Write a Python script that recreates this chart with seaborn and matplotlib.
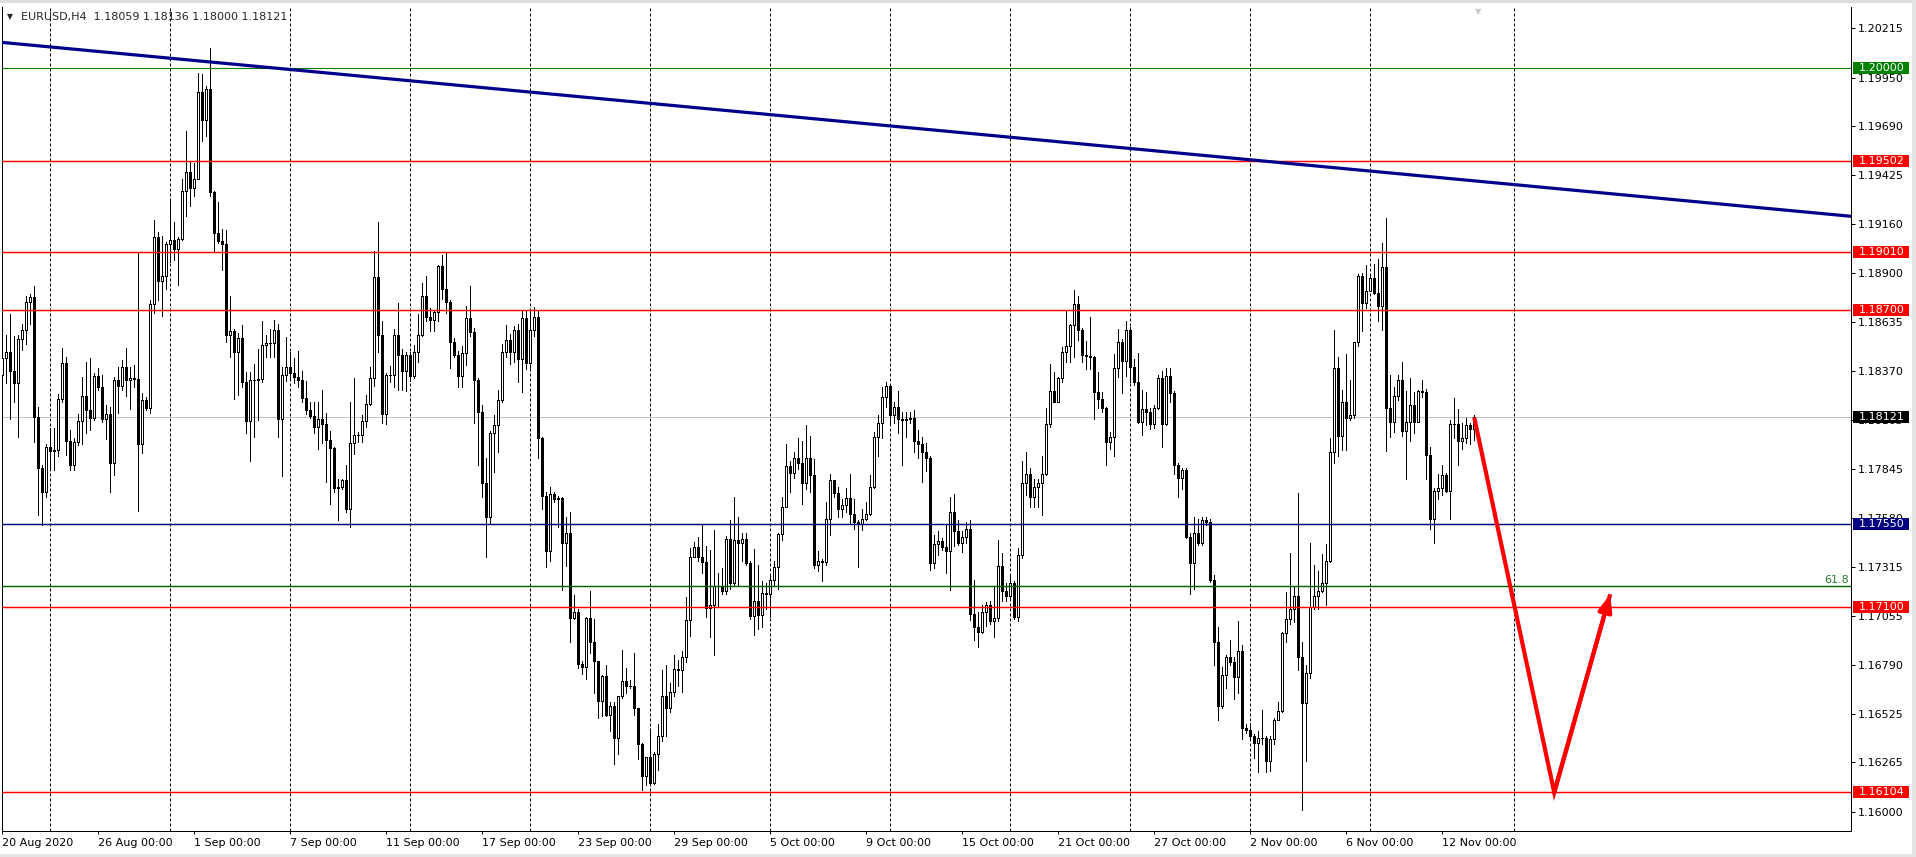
import numpy as np
import pandas as pd
import seaborn as sns
import matplotlib.pyplot as plt
import matplotlib.transforms as mtransforms
from matplotlib.patches import Rectangle

# -------------------------------------------------------------
# EURUSD H4 candles (20 Aug 2020 -> 13 Nov 2020)
# open of each bar = close of the previous one
# -------------------------------------------------------------
first_open = 1.18352

close = [
    1.18443, 1.18476, 1.18372, 1.18306, 1.18544, 1.18594, 1.18742, 1.18770, 1.18125, 1.17850,
    1.17721, 1.17961, 1.17941, 1.17946, 1.18221, 1.18416, 1.17994, 1.17867, 1.17988, 1.18100,
    1.18235, 1.18161, 1.18120, 1.18344, 1.18284, 1.18114, 1.18142, 1.17878, 1.18322, 1.18292,
    1.18391, 1.18322, 1.18336, 1.18328, 1.17977, 1.18213, 1.18172, 1.18729, 1.19091, 1.18855,
    1.18880, 1.19055, 1.19074, 1.19025, 1.19080, 1.19337, 1.19441, 1.19354, 1.19406, 1.19870,
    1.19724, 1.19886, 1.19332, 1.19112, 1.19071, 1.19052, 1.18563, 1.18585, 1.18476, 1.18550,
    1.18311, 1.18103, 1.18322, 1.18322, 1.18328, 1.18511, 1.18522, 1.18522, 1.18591, 1.18114,
    1.18350, 1.18391, 1.18361, 1.18339, 1.18322, 1.18226, 1.18161, 1.18131, 1.18068, 1.18114,
    1.18084, 1.18002, 1.17958, 1.17741, 1.17749, 1.17785, 1.17631, 1.17982, 1.18029, 1.18029,
    1.18100, 1.18194, 1.18336, 1.18877, 1.18566, 1.18142, 1.18347, 1.18352, 1.18563, 1.18457,
    1.18372, 1.18457, 1.18344, 1.18473, 1.18563, 1.18775, 1.18662, 1.18646, 1.18690, 1.18934,
    1.18811, 1.18745, 1.18525, 1.18459, 1.18344, 1.18468, 1.18654, 1.18580, 1.18322, 1.18152,
    1.17768, 1.17584, 1.18037, 1.18078, 1.18215, 1.18476, 1.18536, 1.18476, 1.18591, 1.18434,
    1.18654, 1.18413, 1.18591, 1.18662, 1.18010, 1.17699, 1.17403, 1.17708, 1.17680, 1.17686,
    1.17447, 1.17502, 1.17041, 1.17077, 1.16794, 1.16780, 1.17044, 1.16912, 1.16811, 1.16594,
    1.16731, 1.16523, 1.16570, 1.16397, 1.16624, 1.16704, 1.16674, 1.16674, 1.16556, 1.16364,
    1.16194, 1.16295, 1.16155, 1.16309, 1.16405, 1.16624, 1.16556, 1.16644, 1.16770, 1.16762,
    1.16830, 1.17030, 1.17373, 1.17423, 1.17373, 1.17343, 1.17096, 1.17110, 1.17214, 1.17214,
    1.17187, 1.17466, 1.17233, 1.17461, 1.17447, 1.17466, 1.17338, 1.17055, 1.17132, 1.17058,
    1.17179, 1.17173, 1.17247, 1.17318, 1.17494, 1.17639, 1.17859, 1.17823, 1.17905, 1.17878,
    1.17768, 1.17905, 1.17809, 1.17329, 1.17351, 1.17343, 1.17576, 1.17785, 1.17713, 1.17626,
    1.17648, 1.17686, 1.17604, 1.17557, 1.17549, 1.17576, 1.17604, 1.17749, 1.18015, 1.18092,
    1.18229, 1.18292, 1.18133, 1.18180, 1.18114, 1.18106, 1.18111, 1.18120, 1.17996, 1.17977,
    1.17933, 1.17905, 1.17338, 1.17442, 1.17455, 1.17425, 1.17401, 1.17612, 1.17508, 1.17447,
    1.17480, 1.17521, 1.17063, 1.16994, 1.16967, 1.17077, 1.17113, 1.17028, 1.17044, 1.17324,
    1.17187, 1.17159, 1.17233, 1.17049, 1.17379, 1.17771, 1.17818, 1.17691, 1.17749, 1.17768,
    1.17818, 1.18087, 1.18262, 1.18207, 1.18331, 1.18476, 1.18503, 1.18621, 1.18729, 1.18594,
    1.18457, 1.18454, 1.18448, 1.18256, 1.18221, 1.18174, 1.17991, 1.18015, 1.18388, 1.18525,
    1.18427, 1.18594, 1.18394, 1.18311, 1.18098, 1.18169, 1.18152, 1.18084, 1.18174, 1.18333,
    1.18084, 1.18344, 1.18251, 1.17867, 1.17798, 1.17839, 1.17480, 1.17338, 1.17502, 1.17447,
    1.17571, 1.17557, 1.17247, 1.16912, 1.16570, 1.16734, 1.16830, 1.16808, 1.16726, 1.16863,
    1.16452, 1.16441, 1.16405, 1.16370, 1.16397, 1.16397, 1.16273, 1.16391, 1.16495, 1.16542,
    1.16959, 1.17036, 1.17090, 1.17159, 1.16830, 1.16583, 1.16748, 1.17104, 1.17159, 1.17187,
    1.17228, 1.17351, 1.17933, 1.18388, 1.18023, 1.18202, 1.18120, 1.18133, 1.18525, 1.18882,
    1.18737, 1.18800, 1.18874, 1.18792, 1.18723, 1.18929, 1.18174, 1.18098, 1.18235, 1.18325,
    1.18051, 1.18098, 1.18188, 1.18098, 1.18262, 1.18256, 1.17919, 1.17576, 1.17727, 1.17743,
    1.17812, 1.17727, 1.18087, 1.18087, 1.17996, 1.18010, 1.18078, 1.18059, 1.18121,
]

high = [
    1.18531, 1.18563, 1.18679, 1.18558, 1.18563, 1.18626, 1.18773, 1.18784, 1.18828, 1.18180,
    1.17867, 1.17977, 1.18065, 1.18065, 1.18246, 1.18495, 1.18448, 1.18056, 1.18010, 1.18142,
    1.18339, 1.18421, 1.18440, 1.18361, 1.18388, 1.18350, 1.18188, 1.18180, 1.18339, 1.18394,
    1.18429, 1.18495, 1.18394, 1.18402, 1.19011, 1.18251, 1.18229, 1.18751, 1.19181, 1.19118,
    1.19096, 1.19063, 1.19299, 1.19173, 1.19093, 1.19403, 1.19661, 1.19496, 1.19491, 1.19974,
    1.19968, 1.19902, 1.20108, 1.19337, 1.19282, 1.19134, 1.19129, 1.18773, 1.18599, 1.18574,
    1.18618, 1.18366, 1.18366, 1.18407, 1.18490, 1.18640, 1.18566, 1.18599, 1.18646, 1.18626,
    1.18394, 1.18553, 1.18476, 1.18443, 1.18481, 1.18372, 1.18317, 1.18202, 1.18207, 1.18202,
    1.18270, 1.18147, 1.18051, 1.17960, 1.17790, 1.17790, 1.17867, 1.18202, 1.18333, 1.18045,
    1.18133, 1.18243, 1.18394, 1.19019, 1.19173, 1.18640, 1.18361, 1.18399, 1.18599, 1.18737,
    1.18490, 1.18476, 1.18476, 1.18511, 1.18679, 1.18847, 1.18882, 1.18709, 1.18701, 1.18943,
    1.18997, 1.19011, 1.18751, 1.18550, 1.18481, 1.18503, 1.18723, 1.18828, 1.18604, 1.18331,
    1.18188, 1.17905, 1.18051, 1.18133, 1.18270, 1.18517, 1.18618, 1.18569, 1.18613, 1.18626,
    1.18695, 1.18695, 1.18695, 1.18714, 1.18701, 1.18015, 1.17721, 1.17749, 1.17721, 1.17699,
    1.17694, 1.17584, 1.17612, 1.17165, 1.17090, 1.16811, 1.17049, 1.17187, 1.17036, 1.16811,
    1.16734, 1.16789, 1.16589, 1.16589, 1.16624, 1.16871, 1.16775, 1.16707, 1.16852, 1.16556,
    1.16370, 1.16295, 1.16446, 1.16323, 1.16474, 1.16762, 1.16789, 1.16693, 1.16844, 1.16817,
    1.16863, 1.17154, 1.17420, 1.17453, 1.17480, 1.17549, 1.17428, 1.17406, 1.17516, 1.17283,
    1.17310, 1.17483, 1.17571, 1.17694, 1.17584, 1.17502, 1.17502, 1.17351, 1.17412, 1.17329,
    1.17242, 1.17233, 1.17269, 1.17351, 1.17502, 1.17694, 1.17977, 1.17886, 1.17933, 1.18010,
    1.17996, 1.18078, 1.18023, 1.17900, 1.17401, 1.17359, 1.17667, 1.17818, 1.17785, 1.17749,
    1.17680, 1.17741, 1.17818, 1.17680, 1.17571, 1.17626, 1.17667, 1.17812, 1.18043, 1.18133,
    1.18284, 1.18311, 1.18300, 1.18207, 1.18262, 1.18152, 1.18152, 1.18152, 1.18161, 1.18056,
    1.18018, 1.17982, 1.17914, 1.17488, 1.17510, 1.17475, 1.17549, 1.17694, 1.17708, 1.17571,
    1.17510, 1.17557, 1.17571, 1.17247, 1.17077, 1.17110, 1.17126, 1.17132, 1.17209, 1.17461,
    1.17392, 1.17233, 1.17269, 1.17242, 1.17420, 1.17886, 1.17933, 1.17850, 1.17790, 1.17790,
    1.17914, 1.18174, 1.18407, 1.18366, 1.18339, 1.18498, 1.18695, 1.18626, 1.18806, 1.18773,
    1.18600, 1.18531, 1.18662, 1.18454, 1.18366, 1.18256, 1.18180, 1.18043, 1.18462, 1.18599,
    1.18544, 1.18640, 1.18610, 1.18434, 1.18470, 1.18270, 1.18256, 1.18174, 1.18188, 1.18352,
    1.18372, 1.18388, 1.18388, 1.18262, 1.17878, 1.17850, 1.17850, 1.17502, 1.17584, 1.17576,
    1.17584, 1.17584, 1.17576, 1.17275, 1.16994, 1.16780, 1.16844, 1.16926, 1.16830, 1.17028,
    1.16896, 1.16474, 1.16479, 1.16419, 1.16432, 1.16548, 1.16410, 1.16405, 1.16506, 1.16589,
    1.16967, 1.17181, 1.17392, 1.17214, 1.17713, 1.16912, 1.16789, 1.17447, 1.17329, 1.17297,
    1.17384, 1.17439, 1.18010, 1.18591, 1.18448, 1.18270, 1.18462, 1.18325, 1.18525, 1.18893,
    1.18901, 1.18943, 1.18893, 1.18948, 1.18975, 1.19058, 1.19195, 1.18352, 1.18284, 1.18352,
    1.18421, 1.18262, 1.18333, 1.18256, 1.18270, 1.18322, 1.18276, 1.17960, 1.17741, 1.17818,
    1.17867, 1.17823, 1.18106, 1.18224, 1.18166, 1.18092, 1.18120, 1.18092, 1.18136,
]

low = [
    1.18298, 1.18306, 1.18114, 1.18207, 1.18015, 1.18484, 1.18517, 1.18626, 1.17988, 1.17598,
    1.17543, 1.17694, 1.17839, 1.17839, 1.17914, 1.18202, 1.17919, 1.17839, 1.17839, 1.17974,
    1.17977, 1.18037, 1.18056, 1.18106, 1.18270, 1.18098, 1.18005, 1.17719, 1.17812, 1.18147,
    1.18268, 1.18235, 1.18169, 1.18284, 1.17620, 1.17928, 1.18161, 1.18147, 1.18681, 1.18751,
    1.18668, 1.18811, 1.18956, 1.18970, 1.18833, 1.19074, 1.19203, 1.19258, 1.19313, 1.19406,
    1.19606, 1.19633, 1.19313, 1.19019, 1.19058, 1.18915, 1.18525, 1.18448, 1.18221, 1.18243,
    1.18284, 1.18037, 1.17886, 1.18015, 1.18106, 1.18311, 1.18448, 1.18448, 1.18448, 1.18015,
    1.17804, 1.18317, 1.18322, 1.18306, 1.18284, 1.18202, 1.18142, 1.18120, 1.18037, 1.17949,
    1.17982, 1.17776, 1.17653, 1.17721, 1.17571, 1.17735, 1.17612, 1.17530, 1.17922, 1.17988,
    1.17988, 1.18070, 1.18188, 1.18289, 1.18476, 1.18092, 1.18084, 1.18311, 1.18284, 1.18270,
    1.18270, 1.18262, 1.18317, 1.18331, 1.18421, 1.18558, 1.18640, 1.18585, 1.18585, 1.18640,
    1.18756, 1.18681, 1.18388, 1.18448, 1.18284, 1.18284, 1.18402, 1.18558, 1.18092, 1.17867,
    1.17694, 1.17373, 1.17549, 1.17828, 1.17933, 1.18202, 1.18448, 1.18407, 1.18421, 1.18311,
    1.18256, 1.18380, 1.18380, 1.18558, 1.17905, 1.17626, 1.17316, 1.17351, 1.17666, 1.17530,
    1.17195, 1.17324, 1.16912, 1.17036, 1.16775, 1.16742, 1.16712, 1.16852, 1.16638, 1.16506,
    1.16515, 1.16515, 1.16432, 1.16254, 1.16309, 1.16611, 1.16638, 1.16666, 1.16523, 1.16282,
    1.16117, 1.16144, 1.16144, 1.16150, 1.16227, 1.16378, 1.16405, 1.16534, 1.16624, 1.16679,
    1.16644, 1.16803, 1.16948, 1.17373, 1.17351, 1.17283, 1.17049, 1.16940, 1.16844, 1.17099,
    1.17173, 1.17173, 1.17200, 1.17214, 1.17214, 1.17351, 1.17329, 1.17036, 1.16953, 1.16981,
    1.16994, 1.17090, 1.17049, 1.17214, 1.17200, 1.17461, 1.17639, 1.17721, 1.17795, 1.17845,
    1.17653, 1.17735, 1.17721, 1.17310, 1.17297, 1.17242, 1.17329, 1.17488, 1.17694, 1.17584,
    1.17584, 1.17612, 1.17549, 1.17521, 1.17318, 1.17516, 1.17571, 1.17598, 1.17741, 1.17914,
    1.18010, 1.18180, 1.18092, 1.18092, 1.18037, 1.17867, 1.18018, 1.18092, 1.17938, 1.17905,
    1.17776, 1.17831, 1.17302, 1.17310, 1.17379, 1.17406, 1.17283, 1.17192, 1.17428, 1.17434,
    1.17398, 1.17447, 1.17030, 1.16926, 1.16885, 1.16959, 1.17000, 1.17008, 1.16940, 1.17028,
    1.17132, 1.17132, 1.17150, 1.17036, 1.17028, 1.17365, 1.17702, 1.17639, 1.17639, 1.17639,
    1.17598, 1.17812, 1.18070, 1.18202, 1.18202, 1.18311, 1.18421, 1.18421, 1.18448, 1.18536,
    1.18421, 1.18380, 1.18380, 1.18114, 1.18174, 1.18152, 1.17867, 1.17949, 1.17914, 1.18339,
    1.18251, 1.18344, 1.18311, 1.18298, 1.18092, 1.18029, 1.18078, 1.18059, 1.18065, 1.18169,
    1.17960, 1.18078, 1.18202, 1.17818, 1.17694, 1.17735, 1.17475, 1.17173, 1.17200, 1.17434,
    1.17434, 1.17543, 1.17236, 1.16789, 1.16495, 1.16556, 1.16666, 1.16789, 1.16605, 1.16638,
    1.16391, 1.16424, 1.16391, 1.16287, 1.16213, 1.16364, 1.16213, 1.16221, 1.16364, 1.16495,
    1.16534, 1.16912, 1.17008, 1.17022, 1.16762, 1.16007, 1.16273, 1.16720, 1.17090, 1.17090,
    1.17180, 1.17110, 1.17346, 1.17878, 1.17914, 1.17946, 1.17946, 1.18106, 1.18120, 1.18503,
    1.18585, 1.18709, 1.18800, 1.18784, 1.18640, 1.18591, 1.17941, 1.18015, 1.18043, 1.18215,
    1.18023, 1.17790, 1.17996, 1.18037, 1.18098, 1.18229, 1.17790, 1.17521, 1.17447, 1.17680,
    1.17702, 1.17721, 1.17576, 1.18010, 1.17867, 1.17949, 1.17982, 1.17977, 1.18000,
]

# horizontal levels
red_levels = [1.19502, 1.19010, 1.18700, 1.17100, 1.16104]
round_level = 1.20000
support_level = 1.17550
fib_level = 1.17215
bid_price = 1.18121

# trend line and the projected path (bar index, price)
trend_bars = [-1, 462]
trend_prices = [1.20141, 1.19204]
path_bars = [368, 388, 402]
path_prices = [1.18121, 1.16104, 1.17170]

# axes
price_ticks = [1.20215, 1.19950, 1.19690, 1.19425, 1.19160, 1.18900, 1.18635, 1.18370,
               1.18105, 1.17845, 1.17580, 1.17315, 1.17055, 1.16790, 1.16525, 1.16265, 1.16000]
date_bars = [0, 24, 48, 72, 96, 120, 144, 168, 192, 216, 240, 264, 288, 312, 336, 360]
date_labels = ['20 Aug 2020', '26 Aug 00:00', '1 Sep 00:00', '7 Sep 00:00', '11 Sep 00:00',
               '17 Sep 00:00', '23 Sep 00:00', '29 Sep 00:00', '5 Oct 00:00', '9 Oct 00:00',
               '15 Oct 00:00', '21 Oct 00:00', '27 Oct 00:00', '2 Nov 00:00', '6 Nov 00:00',
               '12 Nov 00:00']
grid_bars = [12, 42, 72, 102, 132, 162, 192, 222, 252, 282, 312, 342, 378]

# -------------------------------------------------------------
df = pd.DataFrame({'close': close, 'high': high, 'low': low})
df['open'] = [first_open] + close[:-1]
df['bar'] = np.arange(len(df))
df['high'] = df[['high', 'open', 'close']].max(axis=1)
df['low'] = df[['low', 'open', 'close']].min(axis=1)
bull = df['close'] >= df['open']

sns.set_style('white')
plt.rcParams['font.family'] = ['DejaVu Sans']

W, H = 1916, 857
fig = plt.figure(figsize=(W / 100, H / 100), dpi=100)
ax = fig.add_axes([2 / W, (H - 831) / H, 1849 / W, 824 / H])
ax.set_xlim(-0.075, 462.2)
ax.set_ylim(1.158962, 1.203296)

# weekly dashed grid
ax.vlines(grid_bars, 0, 1, transform=ax.get_xaxis_transform(), colors='black',
          linestyles=(0, (3, 2)), linewidth=0.72, zorder=0)
ax.axhline(bid_price, color='#C0C0C0', lw=0.72, zorder=1)

# candles
ax.vlines(df['bar'], df['low'], df['high'], colors='black', linewidth=0.72,
          antialiased=False, zorder=2)
ax.bar(df['bar'], (df['close'] - df['open']).abs(),
       bottom=df[['open', 'close']].min(axis=1), width=0.55,
       color=np.where(bull, 'white', 'black'), edgecolor='black', linewidth=0.72,
       antialiased=False, zorder=3)

# levels
for lv in red_levels:
    ax.axhline(lv, color='#FF0000', lw=1.05, zorder=4)
ax.axhline(round_level, color='#008000', lw=0.8, zorder=4)
ax.axhline(support_level, color='#000080', lw=1.05, zorder=4)
ax.axhline(fib_level, color='#006400', lw=1.05, zorder=4)

sns.lineplot(x=trend_bars, y=trend_prices, ax=ax, color='#00008B', lw=2.3, zorder=5)
sns.lineplot(x=path_bars, y=path_prices, ax=ax, sort=False, color='#FF0000', lw=3.0,
             zorder=6, solid_capstyle='butt', solid_joinstyle='miter')
ax.annotate('', xy=(path_bars[2], path_prices[2]), xytext=(path_bars[1], path_prices[1]),
            arrowprops=dict(arrowstyle='-|>,head_length=1.0,head_width=0.4', color='#FF0000',
                            lw=3.0, shrinkA=0, shrinkB=0, mutation_scale=10), zorder=6)

blend = mtransforms.blended_transform_factory(ax.transAxes, ax.transData)
ax.text(0.9989, fib_level + 0.00004, '61.8', transform=blend, ha='right', va='bottom',
        fontsize=8, color='#2E7D32', zorder=6)

# price labels on the scale
box_h = 12 / 18586
price_boxes = [(round_level, '#008000')] + [(lv, '#FF0000') for lv in red_levels] + \
              [(bid_price, '#000000'), (support_level, '#000080')]
for price, col in price_boxes:
    ax.add_patch(Rectangle((1.00108, price - box_h / 2), 0.0303, box_h, transform=blend,
                           facecolor=col, edgecolor='none', clip_on=False, zorder=10))
    ax.text(1.0041, price, f'{price:.5f}', transform=blend, ha='left', va='center',
            fontsize=8, color='white', clip_on=False, zorder=11)

# axes styling
ax.yaxis.tick_right()
ax.set_yticks(price_ticks, [f'{v:.5f}' for v in price_ticks])
ax.set_xticks(date_bars, date_labels)
for lab in ax.get_xticklabels():
    lab.set_ha('left')
ax.tick_params(axis='y', right=True, length=2.9, width=0.72, pad=2.2, labelsize=8,
               colors='black')
ax.tick_params(axis='x', bottom=True, length=2.5, width=0.72, pad=2.2, labelsize=8,
               colors='black')
ax.set_xlabel('')
ax.set_ylabel('')
for side in ['left', 'right', 'bottom']:
    ax.spines[side].set_color('black')
    ax.spines[side].set_linewidth(0.72)
ax.spines['top'].set_visible(False)

# header text
last = df.iloc[-1]
fig.text(7 / W, 1 - 17 / H, '\u25BC', fontsize=5.5, va='center', ha='left')
fig.text(21 / W, 1 - 17 / H,
         f"EURUSD,H4  {last['open']:.5f} {last['high']:.5f} {last['low']:.5f} {last['close']:.5f}",
         fontsize=8, va='center', ha='left')
ax.text(369, 1.0, '\u25BC', transform=ax.get_xaxis_transform(), fontsize=6,
        color='#C8C8C8', ha='center', va='top', zorder=7)

# window frame
fig.add_artist(Rectangle((0, 1 - 3 / H), 1, 3 / H, transform=fig.transFigure,
                         facecolor='#DCDCDC', edgecolor='none'))
fig.add_artist(Rectangle((1 - 4 / W, 0), 4 / W, 1, transform=fig.transFigure,
                         facecolor='#E4E4E4', edgecolor='none'))
fig.add_artist(Rectangle((0, 0), 1, 3 / H, transform=fig.transFigure,
                         facecolor='#E4E4E4', edgecolor='none'))

fig.savefig('out.png', dpi=100, facecolor='white')
